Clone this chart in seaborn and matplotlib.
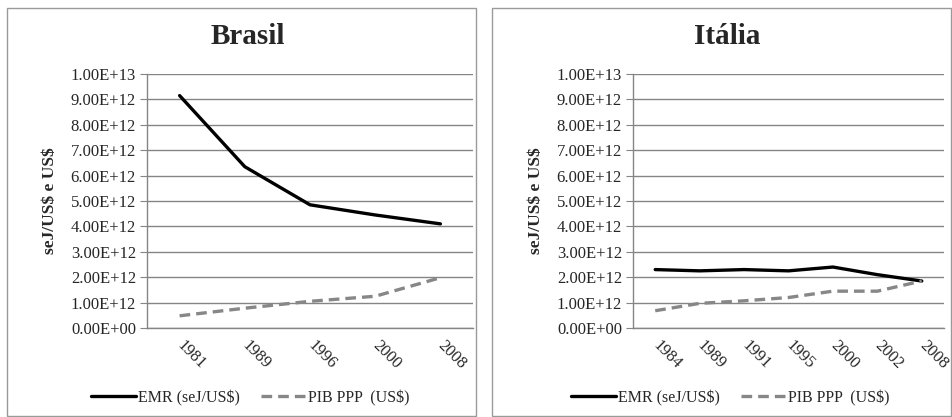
import pandas as pd
import seaborn as sns
import matplotlib.pyplot as plt
from matplotlib.patches import Rectangle
from matplotlib.ticker import FuncFormatter, MultipleLocator, FixedLocator

# dados (seJ/US$ e US$)
anos_br = ["1981", "1989", "1996", "2000", "2008"]
emr_br = [9.15e12, 6.35e12, 4.85e12, 4.45e12, 4.10e12]
pib_br = [0.48e12, 0.78e12, 1.05e12, 1.25e12, 1.98e12]

anos_it = ["1984", "1989", "1991", "1995", "2000", "2002", "2008"]
emr_it = [2.30e12, 2.25e12, 2.30e12, 2.25e12, 2.40e12, 2.10e12, 1.85e12]
pib_it = [0.68e12, 0.97e12, 1.07e12, 1.20e12, 1.45e12, 1.45e12, 1.85e12]

sns.set_style("white")
plt.rcParams['font.family'] = ['Liberation Serif', 'DejaVu Serif']
plt.rcParams['text.parse_math'] = False

W, H = 952, 417
fig = plt.figure(figsize=(W / 100, H / 100), dpi=100)


def px(x0, y0, x1, y1):
    return [x0 / W, 1 - y1 / H, (x1 - x0) / W, (y1 - y0) / H]


paineis = [
    ("Brasil", anos_br, emr_br, pib_br, px(147, 74, 473, 328), (7, 8, 476, 416), 250),
    ("Itália", anos_it, emr_it, pib_it, px(633, 74, 944, 328), (492, 8, 951, 416), 730),
]

for titulo, anos, emr, pib, pos, caixa, cx_leg in paineis:
    # moldura do painel
    fig.patches.append(Rectangle((caixa[0] / W, 1 - caixa[3] / H),
                                 (caixa[2] - caixa[0]) / W, (caixa[3] - caixa[1]) / H,
                                 transform=fig.transFigure, fill=False,
                                 edgecolor="#9a9a9a", linewidth=1.0))
    ax = fig.add_axes(pos)
    df = pd.DataFrame({"Ano": anos, "EMR": emr, "PIB": pib})
    sns.lineplot(data=df, x="Ano", y="EMR", ax=ax, color="black", linewidth=2.4,
                 label="EMR (seJ/US$)", legend=False, sort=False)
    sns.lineplot(data=df, x="Ano", y="PIB", ax=ax, color="#878787", linewidth=2.4,
                 linestyle=(0, (3.2, 1.8)), label="PIB PPP  (US$)", legend=False, sort=False)

    n = len(anos)
    ax.set_xlim(-0.5, n - 0.5)
    ax.set_ylim(0, 1.0e13)
    ax.yaxis.set_major_locator(MultipleLocator(1e12))
    ax.yaxis.set_major_formatter(FuncFormatter(lambda v, p: f"{v:.2E}"))
    ax.grid(axis="y", color="#858585", linewidth=1.0)
    ax.grid(axis="x", visible=False)
    ax.set_axisbelow(True)
    for s in ["top", "right"]:
        ax.spines[s].set_visible(False)
    for s in ["left", "bottom"]:
        ax.spines[s].set_color("#858585")
        ax.spines[s].set_linewidth(1.0)

    ax.xaxis.set_minor_locator(FixedLocator([i - 0.5 for i in range(n + 1)]))
    ax.tick_params(axis="x", which="major", length=0, pad=11, labelsize=12)
    ax.tick_params(axis="x", which="minor", length=5, color="#858585", direction="out")
    ax.tick_params(axis="y", length=5, color="#858585", direction="out", left=True,
                   labelsize=12, pad=3)
    for lab in ax.get_xticklabels():
        lab.set_rotation(-45)
        lab.set_ha("left")
        lab.set_va("center")
        lab.set_rotation_mode("anchor")

    ax.set_xlabel("")
    ax.set_ylabel("seJ/US$ e US$", fontsize=12.5, fontweight="bold", labelpad=9)

    cx = (caixa[0] + caixa[2]) / 2 + 6
    fig.text(cx / W, 1 - 37 / H, titulo, ha="center", va="center",
             fontsize=21, fontweight="bold")

    h, l = ax.get_legend_handles_labels()
    fig.legend(h, l, loc="center", bbox_to_anchor=(cx_leg / W, 1 - 398 / H),
               ncol=2, frameon=False, fontsize=11.5, handlelength=2.8,
               handletextpad=0.15, columnspacing=1.3)

plt.savefig("out.png", dpi=100)
